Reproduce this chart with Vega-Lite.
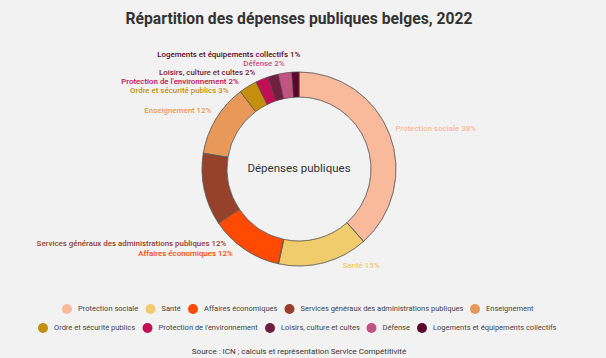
{
  "$schema": "https://vega.github.io/schema/vega-lite/v6.json",
  "autosize": {"type": "none"},
  "width": 598,
  "height": 338,
  "padding": {"left": 0, "top": 0, "right": 8, "bottom": 20},
  "background": "#f2f2f2",
  "config": {"view": {"stroke": null}, "font": "Roboto"},
  "title": {"text": "Répartition des dépenses publiques belges, 2022", "font": "Roboto", "fontSize": 15.7, "fontWeight": "bold", "color": "#333333", "anchor": "middle", "frame": "group", "offset": -28},
  "data": {"values": [
    {"cat": "Protection sociale", "value": 38.4, "rank": 1, "label": "Protection sociale 38%"},
    {"cat": "Santé", "value": 15.0, "rank": 2, "label": "Santé 15%"},
    {"cat": "Affaires économiques", "value": 12.2, "rank": 3, "label": "Affaires économiques 12%"},
    {"cat": "Services généraux des administrations publiques", "value": 12.0, "rank": 4, "label": "Services généraux des administrations publiques 12%"},
    {"cat": "Enseignement", "value": 12.1, "rank": 5, "label": "Enseignement 12%"},
    {"cat": "Ordre et sécurité publics", "value": 3.0, "rank": 6, "label": "Ordre et sécurité publics 3%"},
    {"cat": "Protection de l'environnement", "value": 2.1, "rank": 7, "label": "Protection de l'environnement 2%"},
    {"cat": "Loisirs, culture et cultes", "value": 1.8, "rank": 8, "label": "Loisirs, culture et cultes 2%"},
    {"cat": "Défense", "value": 2.2, "rank": 9, "label": "Défense 2%"},
    {"cat": "Logements et équipements collectifs", "value": 1.2, "rank": 10, "label": "Logements et équipements collectifs 1%"}
  ]},
  "layer": [
    {
      "mark": {"type": "arc", "innerRadius": 72, "outerRadius": 97, "stroke": "#555555", "strokeWidth": 0.5},
      "encoding": {
        "theta": {"field": "value", "type": "quantitative", "stack": true},
        "order": {"field": "rank", "type": "quantitative"},
        "color": {"field": "cat", "type": "nominal",
          "scale": {"domain": ["Protection sociale","Santé","Affaires économiques","Services généraux des administrations publiques","Enseignement","Ordre et sécurité publics","Protection de l'environnement","Loisirs, culture et cultes","Défense","Logements et équipements collectifs"],
                    "range": ["#f9b99b","#f0cc6c","#fe4a03","#96412a","#e8995a","#c38f0c","#c10f55","#711f41","#c0537f","#5a0729"]},
          "legend": {"orient": "none", "legendX": 62, "legendY": 304, "direction": "horizontal", "columns": 5, "title": null,
            "values": ["Protection sociale","Santé","Affaires économiques","Services généraux des administrations publiques","Enseignement"],
            "symbolType": "circle", "symbolSize": 100, "symbolStrokeWidth": 0, "symbolOpacity": 1,
            "labelFont": "Roboto", "labelFontSize": 7.5, "labelColor": "#444444", "labelOffset": 6, "columnPadding": 6.5, "labelLimit": 300}}
      }
    },
    {
      "transform": [{"calculate": "datum.cat", "as": "categorie"}],
      "mark": {"type": "arc", "innerRadius": 72, "outerRadius": 97, "stroke": "#555555", "strokeWidth": 0.5},
      "encoding": {
        "theta": {"field": "value", "type": "quantitative", "stack": true},
        "order": {"field": "rank", "type": "quantitative"},
        "fill": {"field": "categorie", "type": "nominal",
          "scale": {"domain": ["Ordre et sécurité publics","Protection de l'environnement","Loisirs, culture et cultes","Défense","Logements et équipements collectifs"],
                    "range": ["#c38f0c","#c10f55","#711f41","#c0537f","#5a0729"]},
          "legend": {"orient": "none", "legendX": 38, "legendY": 323, "direction": "horizontal", "columns": 5, "title": null,
            "symbolType": "circle", "symbolSize": 100, "symbolStrokeWidth": 0, "symbolOpacity": 1,
            "labelFont": "Roboto", "labelFontSize": 7.5, "labelColor": "#444444", "labelOffset": 6, "columnPadding": 6.5, "labelLimit": 300}}
      }
    },
    {
      "mark": {"type": "text", "radius": 100, "font": "Roboto", "fontSize": 7.9, "fontWeight": 500, "baseline": "middle",
        "align": {"expr": "datum.rank <= 2 ? 'left' : 'right'"},
        "dx": {"expr": "[3,18,-10,25,-2,-18,-22,-17,0,5][datum.rank-1]"},
        "dy": {"expr": "[-4,0,2,54,-6,7,5,0,-6,-14][datum.rank-1]"}},
      "encoding": {
        "theta": {"field": "value", "type": "quantitative", "stack": true},
        "order": {"field": "rank", "type": "quantitative"},
        "color": {"field": "cat", "type": "nominal"},
        "text": {"field": "label", "type": "nominal"}
      }
    },
    {
      "data": {"values": [{"t": "Dépenses publiques"}]},
      "mark": {"type": "text", "font": "Roboto", "fontSize": 11.5, "color": "#333333", "baseline": "middle", "align": "center"},
      "encoding": {"text": {"field": "t", "type": "nominal"}}
    },
    {
      "data": {"values": [{"t": "Source : ICN ; calculs et représentation Service Compétitivité"}]},
      "mark": {"type": "text", "font": "Roboto", "fontSize": 8, "color": "#333333", "baseline": "middle", "align": "center", "y": {"expr": "height + 14"}},
      "encoding": {"text": {"field": "t", "type": "nominal"}}
    }
  ]
}
